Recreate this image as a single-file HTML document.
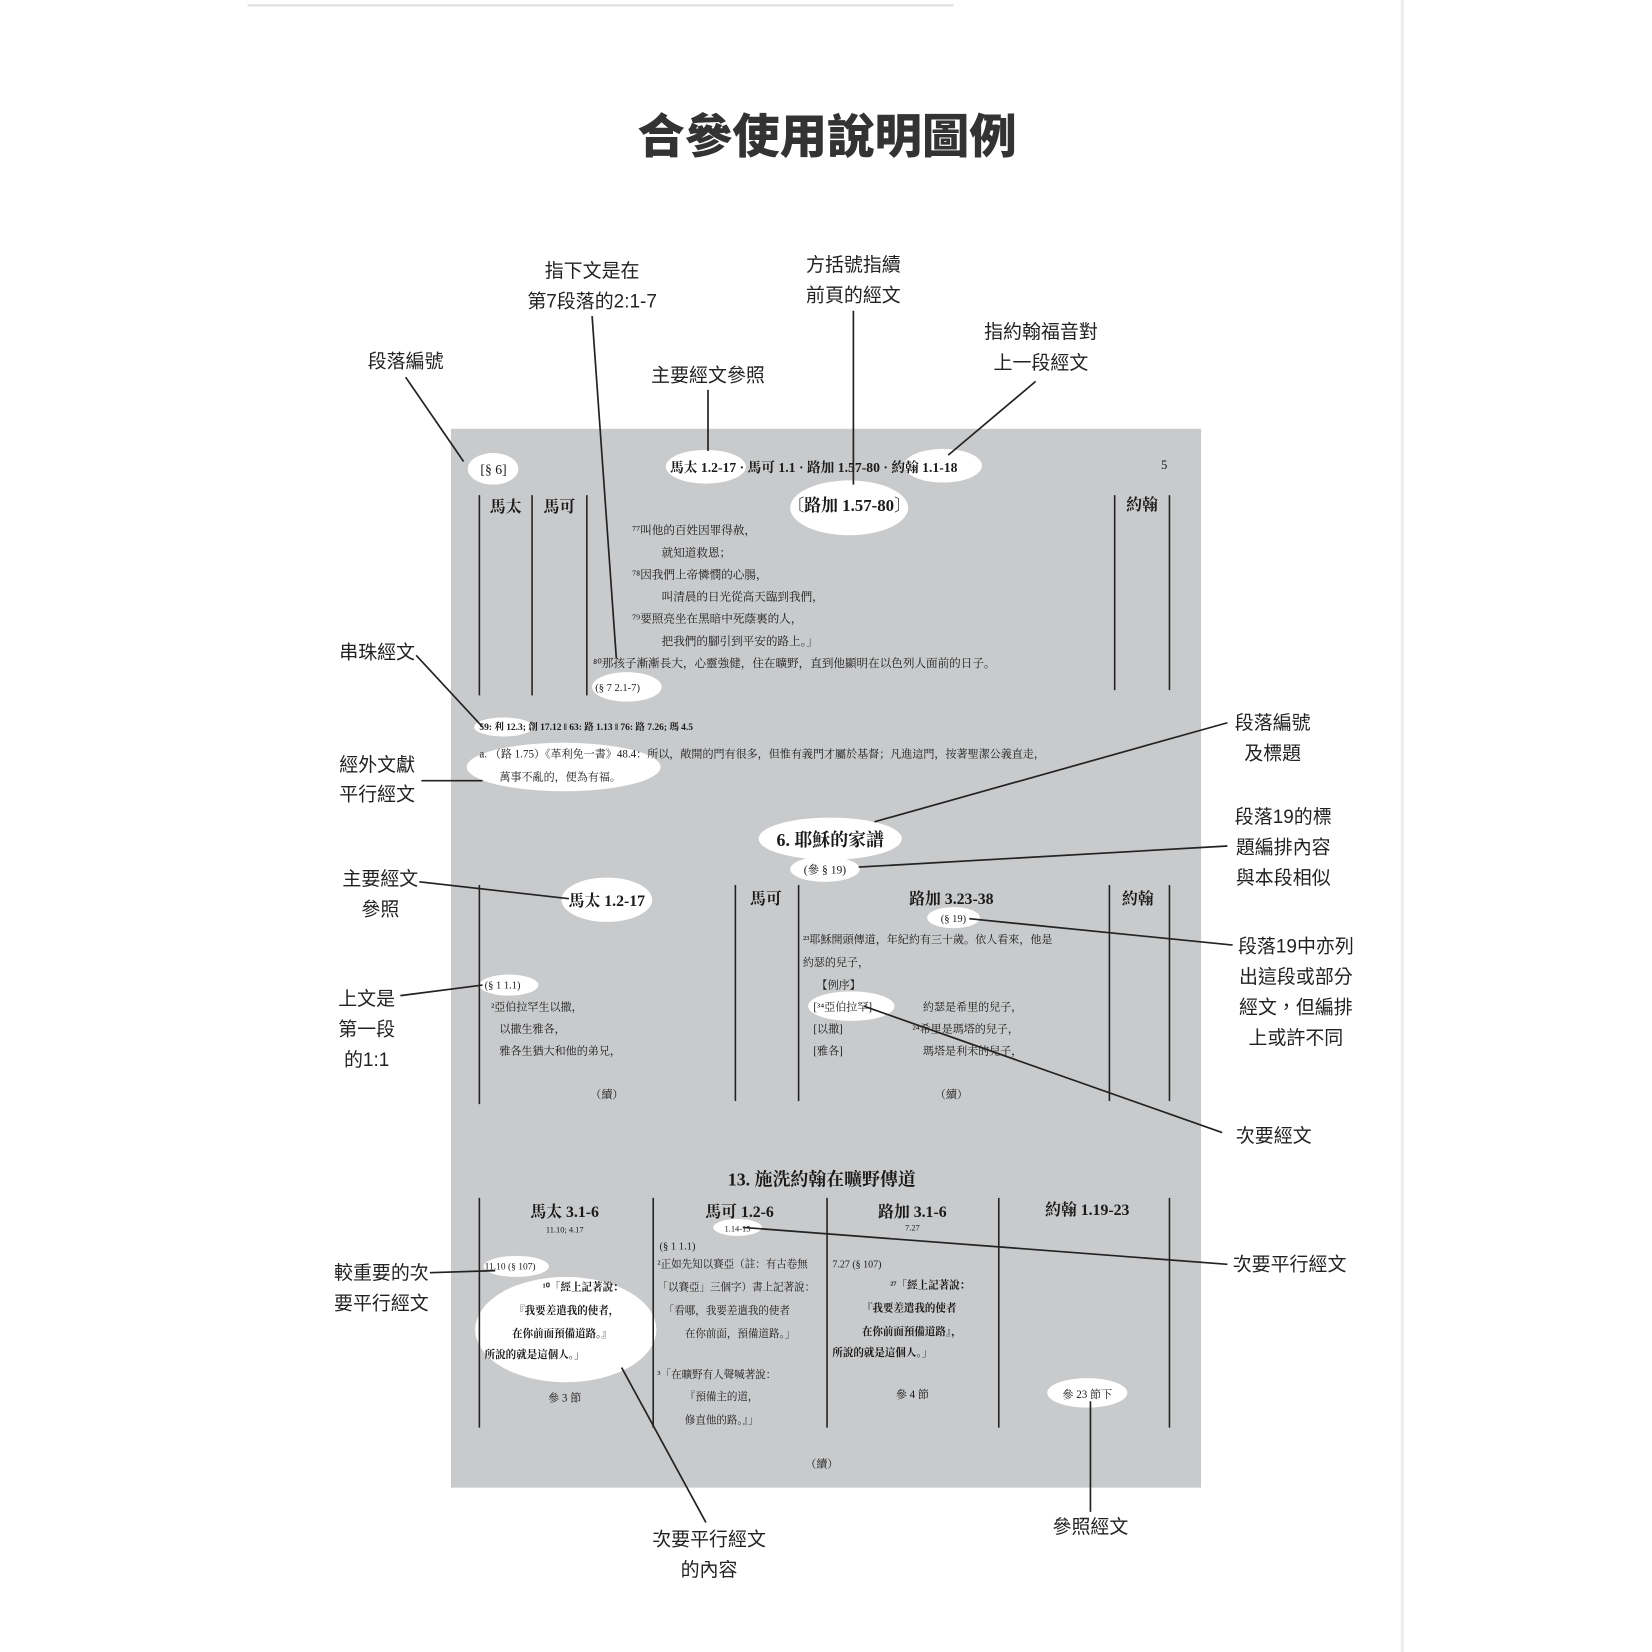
<!DOCTYPE html>
<html><head><meta charset="utf-8"><style>
html,body{margin:0;padding:0;background:#fff;width:1652px;height:1652px;overflow:hidden}
svg{display:block}
.l{font-family:"Liberation Sans","Noto Sans CJK TC",sans-serif;font-size:18px;fill:#222;text-anchor:middle}
.t{font-family:"Liberation Serif","Noto Serif CJK SC","Noto Sans CJK TC",serif;fill:#1a1a1a}
.b{font-weight:bold}
.m{text-anchor:middle}
</style></head><body>
<svg width="1652" height="1652" viewBox="0 0 1568 1568" xmlns="http://www.w3.org/2000/svg">
<rect x="0" y="0" width="1568" height="1568" fill="#fff"/>
<line x1="235" y1="5" x2="905" y2="5" stroke="#ddd" stroke-width="2"/>
<line x1="1331" y1="0" x2="1331" y2="1568" stroke="#eee" stroke-width="3"/>
<text x="785" y="145" class="l b" style="font-size:45px;fill:#333;font-family:'Noto Sans CJK TC','WenQuanYi Zen Hei',sans-serif;font-weight:900">合參使用說明圖例</text>

<rect x="428" y="407" width="712" height="1005" fill="#c9cacc"/>

<g fill="#fff">
<ellipse cx="468" cy="445" rx="24" ry="15"/>
<ellipse cx="670" cy="443" rx="38" ry="16"/>
<ellipse cx="895" cy="442" rx="37" ry="16"/>
<ellipse cx="806" cy="482" rx="56" ry="26"/>
<ellipse cx="595" cy="652" rx="33" ry="14"/>
<ellipse cx="478" cy="690" rx="28" ry="9"/>
<ellipse cx="535" cy="728" rx="92" ry="23"/>
<ellipse cx="788" cy="796" rx="68" ry="20"/>
<ellipse cx="783" cy="825" rx="33" ry="12"/>
<ellipse cx="576" cy="854" rx="43" ry="21"/>
<ellipse cx="905" cy="871" rx="25" ry="10"/>
<ellipse cx="483" cy="935" rx="28" ry="10"/>
<ellipse cx="808" cy="955" rx="41" ry="14"/>
<ellipse cx="700" cy="1165" rx="23" ry="8"/>
<ellipse cx="490" cy="1202" rx="31" ry="10"/>
<ellipse cx="537" cy="1262" rx="86" ry="50"/>
<ellipse cx="1032" cy="1322" rx="38" ry="14"/>
</g>

<g stroke="#222" stroke-width="1.5">
<line x1="455" y1="470" x2="455" y2="660"/><line x1="505" y1="470" x2="505" y2="660"/><line x1="557" y1="470" x2="557" y2="660"/>
<line x1="1058" y1="470" x2="1058" y2="655"/><line x1="1110" y1="470" x2="1110" y2="655"/>
<line x1="455" y1="840" x2="455" y2="1048"/><line x1="698" y1="840" x2="698" y2="1045"/><line x1="758" y1="840" x2="758" y2="1045"/><line x1="1053" y1="840" x2="1053" y2="1045"/><line x1="1110" y1="840" x2="1110" y2="1045"/>
<line x1="455" y1="1137" x2="455" y2="1355"/><line x1="620" y1="1137" x2="620" y2="1355"/><line x1="785" y1="1137" x2="785" y2="1355"/><line x1="948" y1="1137" x2="948" y2="1355"/><line x1="1110" y1="1137" x2="1110" y2="1355"/>
</g>

<g class="t">
<text x="456" y="450" font-size="13">[§ 6]</text>
<text x="636" y="448" font-size="13" class="b">馬太 1.2-17 · 馬可 1.1 · 路加 1.57-80 · 約翰 1.1-18</text>
<text x="1102" y="445" font-size="12">5</text>
<text x="480" y="486" font-size="15" class="m b">馬太</text>
<text x="531" y="486" font-size="15" class="m b">馬可</text>
<text x="1084" y="484" font-size="15" class="m b">約翰</text>
<text x="806" y="485" font-size="16" class="m b">〔路加 1.57-80〕</text>
<text x="600" y="507" font-size="11">⁷⁷叫他的百姓因罪得赦，</text>
<text x="628" y="528" font-size="11">就知道救恩；</text>
<text x="600" y="549" font-size="11">⁷⁸因我們上帝憐憫的心腸，</text>
<text x="628" y="570" font-size="11">叫清晨的日光從高天臨到我們，</text>
<text x="600" y="591" font-size="11">⁷⁹要照亮坐在黑暗中死蔭裏的人，</text>
<text x="628" y="612" font-size="11">把我們的腳引到平安的路上。」</text>
<text x="563" y="633" font-size="11">⁸⁰那孩子漸漸長大，心靈強健，住在曠野，直到他顯明在以色列人面前的日子。</text>
<text x="565" y="656" font-size="10">(§ 7  2.1-7)</text>
<text x="455" y="693" font-size="9" class="b">59: 利 12.3; 創 17.12 ‖ 63: 路 1.13 ‖ 76: 路 7.26; 瑪 4.5</text>
<text x="455" y="719" font-size="10.5">a. （路 1.75）《革利免一書》48.4：所以，敞開的門有很多，但惟有義門才屬於基督；凡進這門，按著聖潔公義直走，</text>
<text x="474" y="741" font-size="10.5">萬事不亂的，便為有福。</text>
<text x="788" y="803" font-size="17" class="m b">6. 耶穌的家譜</text>
<text x="783" y="829" font-size="11" class="m">(參 § 19)</text>
<text x="576" y="860" font-size="15" class="m b">馬太 1.2-17</text>
<text x="727" y="858" font-size="15" class="m b">馬可</text>
<text x="903" y="858" font-size="15" class="m b">路加 3.23-38</text>
<text x="1080" y="858" font-size="15" class="m b">約翰</text>
<text x="905" y="875" font-size="10" class="m">(§ 19)</text>
<text x="762" y="895" font-size="10.5">²³耶穌開頭傳道，年紀約有三十歲。依人看來，他是</text>
<text x="762" y="917" font-size="10.5">約瑟的兒子，</text>
<text x="775" y="938" font-size="10.5">【例序】</text>
<text x="772" y="959" font-size="10.5">[³⁴亞伯拉罕]</text>
<text x="772" y="980" font-size="10.5">[以撒]</text>
<text x="772" y="1001" font-size="10.5">[雅各]</text>
<text x="876" y="959" font-size="10.5">約瑟是希里的兒子，</text>
<text x="866" y="980" font-size="10.5">²⁴希里是瑪塔的兒子，</text>
<text x="876" y="1001" font-size="10.5">瑪塔是利未的兒子，</text>
<text x="460" y="938" font-size="10">(§ 1  1.1)</text>
<text x="466" y="959" font-size="10.5">²亞伯拉罕生以撒，</text>
<text x="474" y="980" font-size="10.5">以撒生雅各，</text>
<text x="474" y="1001" font-size="10.5">雅各生猶大和他的弟兄，</text>
<text x="576" y="1042" font-size="10.5" class="m">（續）</text>
<text x="903" y="1042" font-size="10.5" class="m">（續）</text>
<text x="780" y="1125" font-size="17" class="m b">13. 施洗約翰在曠野傳道</text>
<text x="536" y="1155" font-size="15" class="m b">馬太 3.1-6</text>
<text x="536" y="1170" font-size="8" class="m">11.10; 4.17</text>
<text x="702" y="1155" font-size="15" class="m b">馬可 1.2-6</text>
<text x="700" y="1169" font-size="8" class="m">1.14-15</text>
<text x="866" y="1155" font-size="15" class="m b">路加 3.1-6</text>
<text x="866" y="1168" font-size="8" class="m">7.27</text>
<text x="1032" y="1153" font-size="15" class="m b">約翰 1.19-23</text>
<text x="460" y="1205" font-size="9">11.10 (§ 107)</text>
<text x="515" y="1225" font-size="10" class="b">¹⁰「經上記著說：</text>
<text x="488" y="1247" font-size="10" class="b">『我要差遣我的使者，</text>
<text x="486" y="1269" font-size="10" class="b">在你前面預備道路。』</text>
<text x="460" y="1289" font-size="10" class="b">所說的就是這個人。」</text>
<text x="536" y="1330" font-size="10.5" class="m">參 3 節</text>
<text x="626" y="1186" font-size="10">(§ 1  1.1)</text>
<text x="624" y="1203" font-size="10">²正如先知以賽亞（註：有古卷無</text>
<text x="624" y="1225" font-size="10">「以賽亞」三個字）書上記著說：</text>
<text x="630" y="1247" font-size="10">「看哪，我要差遣我的使者</text>
<text x="650" y="1269" font-size="10">在你前面，預備道路。」</text>
<text x="624" y="1308" font-size="10">³「在曠野有人聲喊著說：</text>
<text x="650" y="1329" font-size="10">『預備主的道，</text>
<text x="650" y="1351" font-size="10">修直他的路。』」</text>
<text x="790" y="1203" font-size="9.5">7.27 (§ 107)</text>
<text x="845" y="1223" font-size="10" class="b">²⁷「經上記著說：</text>
<text x="818" y="1245" font-size="10" class="b">『我要差遣我的使者</text>
<text x="818" y="1267" font-size="10" class="b">在你前面預備道路』，</text>
<text x="790" y="1287" font-size="10" class="b">所說的就是這個人。」</text>
<text x="866" y="1327" font-size="10.5" class="m">參 4 節</text>
<text x="1032" y="1327" font-size="10.5" class="m">參 23 節下</text>
<text x="780" y="1393" font-size="10.5" class="m">（續）</text>
</g>

<g stroke="#222" stroke-width="1.6" fill="none">
<line x1="385" y1="358" x2="440" y2="438"/>
<line x1="562" y1="300" x2="585" y2="625"/>
<line x1="810" y1="295" x2="810" y2="460"/>
<line x1="983" y1="362" x2="900" y2="432"/>
<line x1="672" y1="370" x2="672" y2="428"/>
<line x1="395" y1="622" x2="458" y2="690"/>
<line x1="400" y1="741" x2="458" y2="741"/>
<line x1="1165" y1="686" x2="830" y2="780"/>
<line x1="1165" y1="803" x2="815" y2="823"/>
<line x1="398" y1="837" x2="540" y2="853"/>
<line x1="1170" y1="897" x2="920" y2="872"/>
<line x1="380" y1="945" x2="458" y2="935"/>
<line x1="1160" y1="1075" x2="820" y2="955"/>
<line x1="408" y1="1208" x2="470" y2="1206"/>
<line x1="1165" y1="1200" x2="705" y2="1165"/>
<line x1="670" y1="1445" x2="590" y2="1298"/>
<line x1="1035" y1="1435" x2="1035" y2="1330"/>
</g>

<g class="l">
<text x="562" y="263">指下文是在</text><text x="562" y="292">第7段落的2:1-7</text>
<text x="810" y="257">方括號指續</text><text x="810" y="286">前頁的經文</text>
<text x="988" y="321">指約翰福音對</text><text x="988" y="350">上一段經文</text>
<text x="385" y="349">段落編號</text>
<text x="672" y="362">主要經文參照</text>
<text x="358" y="625">串珠經文</text>
<text x="358" y="732">經外文獻</text><text x="358" y="760">平行經文</text>
<text x="1208" y="692">段落編號</text><text x="1208" y="721">及標題</text>
<text x="1218" y="781">段落19的標</text><text x="1218" y="810">題編排內容</text><text x="1218" y="839">與本段相似</text>
<text x="361" y="840">主要經文</text><text x="361" y="869">參照</text>
<text x="1230" y="904">段落19中亦列</text><text x="1230" y="933">出這段或部分</text><text x="1230" y="962">經文，但編排</text><text x="1230" y="991">上或許不同</text>
<text x="348" y="954">上文是</text><text x="348" y="983">第一段</text><text x="348" y="1012">的1:1</text>
<text x="1209" y="1084">次要經文</text>
<text x="362" y="1214">較重要的次</text><text x="362" y="1243">要平行經文</text>
<text x="1224" y="1206">次要平行經文</text>
<text x="673" y="1467">次要平行經文</text><text x="673" y="1496">的內容</text>
<text x="1035" y="1455">參照經文</text>
</g>
</svg>
</body></html>
